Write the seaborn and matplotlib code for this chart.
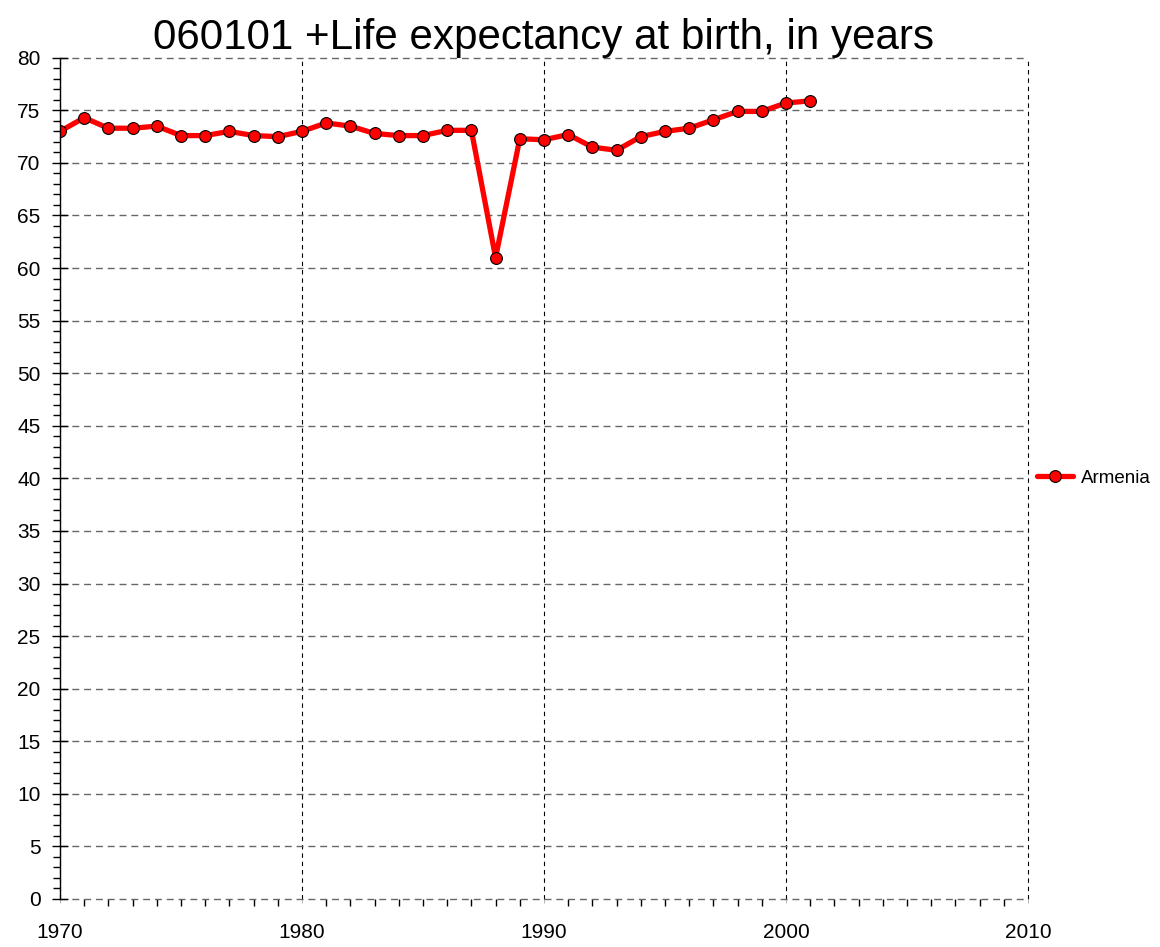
import pandas as pd
import seaborn as sns
import matplotlib.pyplot as plt
from matplotlib.ticker import MultipleLocator

years = list(range(1970, 2002))
life_exp = [73.0, 74.3, 73.3, 73.3, 73.5, 72.6, 72.6, 73.0, 72.6, 72.5,
            73.0, 73.8, 73.5, 72.8, 72.6, 72.6, 73.1, 73.1, 61.0, 72.3,
            72.2, 72.7, 71.5, 71.2, 72.5, 73.0, 73.3, 74.1, 74.9, 74.9,
            75.7, 75.9]
country = "Armenia"
title = "060101 +Life expectancy at birth, in years"

df = pd.DataFrame({"Year": years, "Value": life_exp, "Country": country})

sns.set_style("white")
plt.rcParams["font.family"] = ["Liberation Sans", "DejaVu Sans"]
plt.rcParams["text.color"] = "black"
plt.rcParams["xtick.color"] = "black"
plt.rcParams["ytick.color"] = "black"

fig = plt.figure(figsize=(11.6, 9.47), dpi=100)
ax = fig.add_axes([0.0517, 0.0507, 0.8345, 0.8883])

sns.lineplot(data=df, x="Year", y="Value", hue="Country", palette=["#ff0000"],
             marker="o", markersize=8.5, markeredgecolor="black", markeredgewidth=0.8,
             linewidth=3.8, ax=ax)

ax.set_xlim(1970, 2010)
ax.set_ylim(0, 80)
ax.xaxis.set_major_locator(MultipleLocator(10))
ax.xaxis.set_minor_locator(MultipleLocator(1))
ax.yaxis.set_major_locator(MultipleLocator(5))
ax.yaxis.set_minor_locator(MultipleLocator(1))

ax.grid(axis="y", which="major", color="0.4", linestyle=(0, (5, 3.5)), linewidth=1.0)
ax.grid(axis="x", which="major", color="black", linestyle=(0, (4, 3.5)), linewidth=0.8)
ax.set_axisbelow(True)
for gl in ax.get_xgridlines() + ax.get_ygridlines():
    gl.set_clip_on(False)

for s in ["top", "right", "bottom"]:
    ax.spines[s].set_visible(False)
ax.spines["left"].set_color("black")
ax.spines["left"].set_linewidth(1.0)

ax.tick_params(axis="y", which="major", direction="inout", length=12, width=1,
               labelsize=15, pad=8, left=True)
ax.tick_params(axis="y", which="minor", direction="out", length=5, width=1, left=True)
ax.tick_params(axis="x", which="major", direction="out", length=3, width=0.5, color="0.6",
               labelsize=15, pad=14, bottom=True)
ax.tick_params(axis="x", which="minor", direction="out", length=5, width=1, bottom=True)

ax.set_xlabel("")
ax.set_ylabel("")
ax.set_title(title, fontsize=30.3, pad=4)

ax.legend(loc="center left", bbox_to_anchor=(1.0, 0.5), frameon=False, fontsize=13.5,
          handlelength=1.9, handletextpad=0.4, borderaxespad=0.1)

plt.savefig("out.png", dpi=100)
